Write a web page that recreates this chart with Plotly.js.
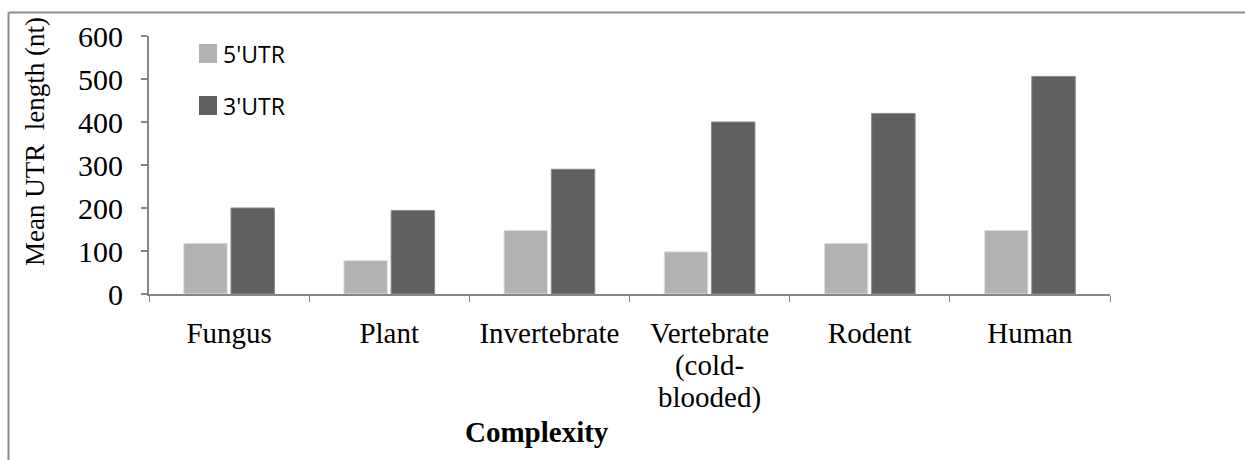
<!DOCTYPE html>
<html>
<head>
<meta charset="utf-8">
<script src="https://cdn.plot.ly/plotly-3.0.1.min.js"></script>
<style>
  html, body { margin: 0; padding: 0; background: #fff; }
  #chart { width: 1245px; height: 460px; }
</style>
</head>
<body>
<div id="chart"></div>
<script>
// ---- Data ----
var categories = ["Fungus", "Plant", "Invertebrate", "Vertebrate<br>(cold-<br>blooded)", "Rodent", "Human"];
var utr5 = [118, 78, 148, 98, 118, 148];
var utr3 = [200, 194, 290, 400, 420, 506];
var seriesNames = ["5'UTR", "3'UTR"];
var yTicks = [0, 100, 200, 300, 400, 500, 600];
var xTitle = "Complexity";
var yTitle = "Mean UTR  length (nt)";

// ---- Style ----
var W = 1245, H = 460;
var M = { l: 149, r: 135, t: 36, b: 166 };
var colLight = "#b2b2b2", colDark = "#606060", axisCol = "#868686";
var serif = "Liberation Serif, Times New Roman, serif";
var sans = "Open Sans, Liberation Sans, sans-serif";

function px(xp) { return (xp - M.l) / (W - M.l - M.r); }
function py(yp) { return 1 - (yp - M.t) / (H - M.t - M.b); }

var traces = [
  { type: "bar", name: seriesNames[0], x: categories, y: utr5,
    marker: { color: colLight, line: { color: "#e2e2e2", width: 1 } }, showlegend: false },
  { type: "bar", name: seriesNames[1], x: categories, y: utr3,
    marker: { color: colDark, line: { color: "#8a8a8a", width: 1 } }, showlegend: false }
];

var shapes = [
  { type: "line", xref: "paper", yref: "paper", x0: px(8.5), x1: px(8.5), y0: py(12.5), y1: py(470), line: { color: "#8c8c8c", width: 2 } },
  { type: "line", xref: "paper", yref: "paper", x0: px(8.5), x1: px(1260), y0: py(12.5), y1: py(12.5), line: { color: "#8c8c8c", width: 2 } },
  { type: "rect", xref: "paper", yref: "paper", x0: px(199), x1: px(217), y0: py(44), y1: py(63), fillcolor: colLight, line: { width: 0 } },
  { type: "rect", xref: "paper", yref: "paper", x0: px(199), x1: px(217), y0: py(96), y1: py(115), fillcolor: colDark, line: { width: 0 } }
];

var annotations = [
  { xref: "paper", yref: "paper", x: px(221), y: py(54), xanchor: "left", yanchor: "middle", showarrow: false,
    text: seriesNames[0], font: { family: sans, size: 23, color: "#000" } },
  { xref: "paper", yref: "paper", x: px(221), y: py(106), xanchor: "left", yanchor: "middle", showarrow: false,
    text: seriesNames[1], font: { family: sans, size: 23, color: "#000" } },
  { xref: "paper", yref: "paper", x: px(537), y: py(432), xanchor: "center", yanchor: "middle", showarrow: false,
    text: "<b>" + xTitle + "</b>", font: { family: serif, size: 29, color: "#000" } },
  { xref: "paper", yref: "paper", x: px(35), y: py(142), xanchor: "center", yanchor: "middle", showarrow: false,
    textangle: -90, text: yTitle, font: { family: serif, size: 27, color: "#000" } }
];

var layout = {
  width: W, height: H,
  margin: M,
  paper_bgcolor: "#fff", plot_bgcolor: "#fff",
  bargap: 0.41, bargroupgap: 0.08, barmode: "group",
  showlegend: false,
  xaxis: {
    type: "category",
    showline: true, linecolor: axisCol, linewidth: 2,
    ticks: "outside", tickson: "boundaries", ticklen: 6, tickcolor: axisCol, tickwidth: 1,
    showgrid: false, zeroline: false,
    tickfont: { family: serif, size: 29, color: "#000" },
    ticklabelstandoff: 12,
    tickangle: 0
  },
  yaxis: {
    range: [0, 600], tickvals: yTicks, ticktext: yTicks.map(String),
    showline: true, linecolor: axisCol, linewidth: 2,
    ticks: "outside", ticklen: 6, tickcolor: axisCol, tickwidth: 2,
    showgrid: false, zeroline: false,
    tickfont: { family: serif, size: 30, color: "#000" },
    ticklabelstandoff: 12
  },
  shapes: shapes,
  annotations: annotations
};

Plotly.newPlot("chart", traces, layout, { displayModeBar: false, staticPlot: true }).then(function () {
  // tighter line spacing for the wrapped category label (reference uses ~1.1em instead of 1.3em)
  document.querySelectorAll(".xtick text tspan.line").forEach(function (ts) {
    var dy = parseFloat(ts.getAttribute("dy"));
    if (dy) ts.setAttribute("dy", (dy * 1.1 / 1.3).toFixed(3) + "em");
  });
});
</script>
</body>
</html>
